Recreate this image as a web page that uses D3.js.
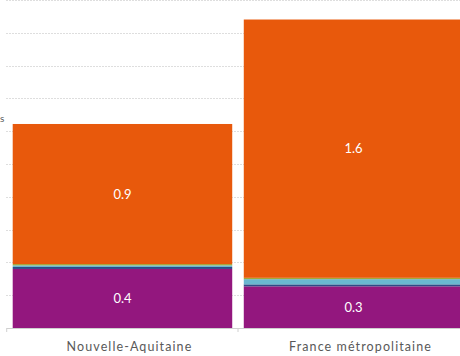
<!DOCTYPE html>
<html><head><meta charset="utf-8">
<script src="https://cdn.jsdelivr.net/npm/d3@7"></script>
<style>
html,body{margin:0;padding:0;background:#fff;overflow:hidden;}
svg{display:block;font-family:Lato, "Open Sans", sans-serif;}
</style></head>
<body>
<svg id="c" width="460" height="356"></svg>
<script>
const categories = ["Nouvelle-Aquitaine", "France métropolitaine"];
const seriesNames = ["s1", "s2", "s3", "s4", "s5"];
const seriesColors = ["#93177e", "#2e4a87", "#6ab7d0", "#a5a73a", "#e8590c"];
// values per series, ordered bottom to top, one per category
const s1 = [0.36, 0.254];
const s2 = [0.012, 0.012];
const s3 = [0.010, 0.032];
const s4 = [0.008, 0.008];
const s5 = [0.854, 1.575];
const labelS1 = ["0.4", "0.3"];
const labelS5 = ["0.9", "1.6"];
const yTicks = [0, 0.2, 0.4, 0.6, 0.8, 1.0, 1.2, 1.4, 1.6, 1.8, 2.0];

const svg = d3.select("#c");
const x = d3.scaleBand().domain(categories).range([6.7, 469.3]).paddingInner(0.05).paddingOuter(0.026);
const y = d3.scaleLinear().domain([0, 2]).range([328, 0]);

// gridlines
svg.append("g").selectAll("line").data(yTicks.slice(1)).join("line")
  .attr("x1", 6).attr("x2", 460)
  .attr("y1", d => Math.round(y(d)) + 0.5).attr("y2", d => Math.round(y(d)) + 0.5)
  .attr("stroke", "#dedede").attr("stroke-width", 1).attr("stroke-dasharray", "2,1");

const rows = categories.map((c, i) => ({cat: c, s1: s1[i], s2: s2[i], s3: s3[i], s4: s4[i], s5: s5[i]}));
const stack = d3.stack().keys(seriesNames)(rows);

svg.append("g").selectAll("g").data(stack).join("g")
  .attr("fill", (d, i) => seriesColors[i])
  .selectAll("rect").data(d => d).join("rect")
  .attr("x", d => x(d.data.cat))
  .attr("width", x.bandwidth())
  .attr("y", d => y(d[1]))
  .attr("height", d => y(d[0]) - y(d[1]));

// value labels
const lab = svg.append("g").attr("fill", "#fff").attr("font-size", 13).attr("text-anchor", "middle");
[[stack[0], labelS1], [stack[4], labelS5]].forEach(([layer, labels]) => {
  layer.forEach((d, i) => {
    lab.append("text")
      .attr("x", x(d.data.cat) + x.bandwidth() / 2)
      .attr("y", (y(d[0]) + y(d[1])) / 2)
      .attr("dy", "0.35em")
      .text(labels[i]);
  });
});

// x axis
const ax = svg.append("g").attr("transform", "translate(0,328)");
ax.append("line").attr("x1", 6.7).attr("x2", 460).attr("y1", 0.5).attr("y2", 0.5).attr("stroke", "#d0d0d0");
const bounds = [6.7, (x(categories[0]) + x.bandwidth() + x(categories[1])) / 2];
ax.selectAll("line.t").data(bounds).join("line").attr("class", "t")
  .attr("x1", d => d).attr("x2", d => d).attr("y1", 0).attr("y2", 4).attr("stroke", "#d0d0d0");
ax.selectAll("text").data(categories).join("text")
  .attr("x", d => x(d) + x.bandwidth() / 2 + 7)
  .attr("y", 19)
  .attr("dy", "0.35em")
  .attr("text-anchor", "middle")
  .attr("fill", "#595959")
  .attr("font-size", 12.5)
  .attr("letter-spacing", "1.1px")
  .text(d => d);

// visible tail of the y-axis title
svg.append("text").attr("x", 0).attr("y", 122).attr("text-anchor", "start")
  .attr("fill", "#595959").attr("font-size", 10).text("s");
</script>
</body></html>
